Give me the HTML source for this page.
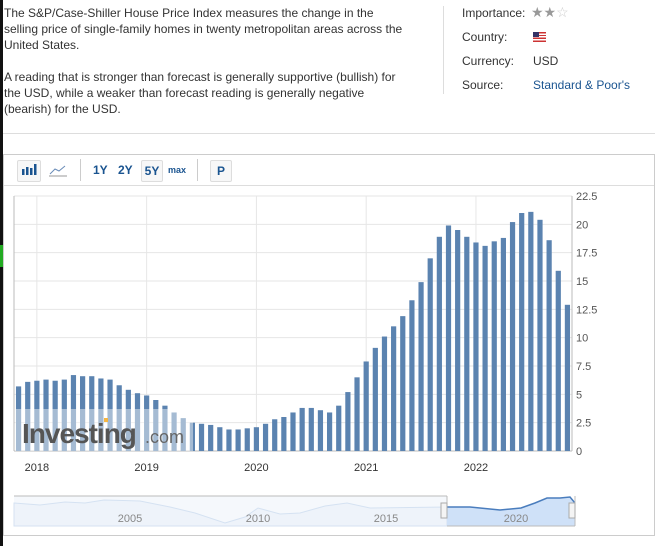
<!DOCTYPE html>
<html><head><meta charset="utf-8"><style>
body{margin:0;width:665px;height:546px;background:#fff;font-family:"Liberation Sans",sans-serif;position:relative;overflow:hidden}
.abs{position:absolute}
.desc{left:4px;top:5px;width:402px;font-size:12px;line-height:16px;color:#333}
.meta{font-size:12px;color:#333}
.btn{position:absolute;top:160px;height:20px;border:1px solid #ddd;border-radius:2px;background:#f7f7f7;font-size:12px;font-weight:bold;color:#1a5490;text-align:center;line-height:20px}
.lbl{position:absolute;font-size:12px;font-weight:bold;color:#1a5490}
</style></head><body>
<div class="abs" style="left:0;top:0;width:3px;height:546px;background:#111"></div>
<div class="abs" style="left:0;top:245px;width:3px;height:22px;background:#2a2"></div>
<div class="abs desc">The S&amp;P/Case-Shiller House Price Index measures the change in the selling price of single-family homes in twenty metropolitan areas across the United States.<br><br>A reading that is stronger than forecast is generally supportive (bullish) for the USD, while a weaker than forecast reading is generally negative (bearish) for the USD.</div>
<div class="abs" style="left:443px;top:6px;width:1px;height:88px;background:#ddd"></div>
<div class="abs meta" style="left:462px;top:6px">Importance:</div>
<div class="abs" style="left:531px;top:4px;font-size:14px;color:#999">★★<span style="color:#ccc">☆</span></div>
<div class="abs meta" style="left:462px;top:30px">Country:</div>
<div class="abs" style="left:533px;top:32px;width:13px;height:10px;background:repeating-linear-gradient(#c33 0 1.4px,#fff 1.4px 2.8px)"><div style="width:6px;height:5px;background:#336"></div></div>
<div class="abs meta" style="left:462px;top:54px">Currency:</div>
<div class="abs meta" style="left:533px;top:54px">USD</div>
<div class="abs meta" style="left:462px;top:78px">Source:</div>
<div class="abs meta" style="left:533px;top:78px;color:#1a5490">Standard &amp; Poor's</div>
<div class="abs" style="left:3px;top:133px;width:652px;height:1px;background:#ddd"></div>
<div class="abs" style="left:3px;top:154px;width:650px;height:380px;border:1px solid #ccc"></div>
<div class="abs" style="left:4px;top:185px;width:650px;height:1px;background:#ddd"></div>
<div class="btn" style="left:17px;width:22px"><svg width="16" height="12" viewBox="0 0 16 12"><rect x="1" y="6" width="2.5" height="6" fill="#1a5490"/><rect x="5" y="4" width="2.5" height="8" fill="#1a5490"/><rect x="9" y="5" width="2.5" height="7" fill="#1a5490"/><rect x="13" y="1" width="2.5" height="11" fill="#1a5490"/></svg></div>
<div class="abs" style="left:49px;top:163px"><svg width="18" height="14"><polyline points="1,11 6,6 10,8 16,3" fill="none" stroke="#6a8cb8"/><line x1="0" y1="13" x2="18" y2="13" stroke="#999"/></svg></div>
<div class="abs" style="left:80px;top:159px;width:1px;height:22px;background:#ccc"></div>
<div class="lbl" style="left:93px;top:163px">1Y</div>
<div class="lbl" style="left:118px;top:163px">2Y</div>
<div class="btn" style="left:141px;width:20px">5Y</div>
<div class="lbl" style="left:168px;top:165px;font-size:9px">max</div>
<div class="abs" style="left:197px;top:159px;width:1px;height:22px;background:#ccc"></div>
<div class="btn" style="left:210px;width:20px">P</div>
<svg class="abs" style="left:0;top:0" width="665" height="546" id="chart"></svg>
<script>
const values=[5.7,6.1,6.2,6.3,6.2,6.3,6.7,6.6,6.6,6.4,6.3,5.8,5.4,5.1,4.9,4.5,4.0,3.4,2.9,2.5,2.4,2.3,2.1,1.9,1.9,2.0,2.1,2.4,2.8,3.0,3.4,3.8,3.8,3.6,3.4,4.0,5.2,6.5,7.9,9.1,10.1,11.0,11.9,13.3,14.9,17.0,18.9,19.9,19.5,18.9,18.4,18.1,18.5,18.8,20.2,21.0,21.1,20.4,18.6,15.9,12.9];
const yTicks=[0,2.5,5,7.5,10,12.5,15,17.5,20,22.5];
const years=["2018","2019","2020","2021","2022"];
const yearIdx=[2,14,26,38,50];
const navLabels=["2005","2010","2015","2020"];
const NS='http://www.w3.org/2000/svg',svg=document.getElementById('chart');
const x0=14,x1=572,yBase=451,yTop=196,yMax=22.5;
const step=(x1-x0)/values.length;
const y=v=>yBase-(v/yMax)*(yBase-yTop);
const xc=i=>x0+step*(i+0.5);
function mk(t,a){const e=document.createElementNS(NS,t);for(const k in a)e.setAttribute(k,a[k]);svg.appendChild(e);return e;}
yTicks.forEach(t=>{const g=mk('line',{x1:x0,x2:x1,y1:y(t),y2:y(t),stroke:'#e6e6e6'});


const l=mk('text',{x:x1+4,y:y(t)+4,'font-size':11,fill:'#555','font-family':'Liberation Sans'});l.textContent=t;

});
years.forEach((yr,k)=>{const xx=xc(yearIdx[k]);const g=mk('line',{x1:xx,x2:xx,y1:yTop,y2:yBase,stroke:'#e6e6e6'});


const l=mk('text',{x:xx,y:471,'font-size':11,fill:'#333','text-anchor':'middle','font-family':'Liberation Sans'});l.textContent=yr;

});
mk('line',{x1:x0,x2:x0,y1:yTop,y2:yBase,stroke:'#bbb'});
mk('line',{x1:x1,x2:x1,y1:yTop,y2:yBase,stroke:'#bbb'});
mk('line',{x1:x0,x2:x1,y1:yBase,y2:yBase,stroke:'#bbb'});
values.forEach((v,i)=>{const r=mk('rect',{x:xc(i)-2.6,y:y(v),width:5.2,height:yBase-y(v),fill:'#5b83b0'});

});
mk('rect',{x:x0+1,y:409,width:178,height:42,fill:'#fff',opacity:0.45});
const wm=mk('text',{x:22,y:443,'font-size':28,'font-weight':'bold',fill:'#555','font-family':'Liberation Sans','letter-spacing':'-1'});wm.textContent='Investing';


const wm2=mk('text',{x:145,y:443,'font-size':18,fill:'#666','font-family':'Liberation Sans'});wm2.textContent='.com';


mk('rect',{x:104,y:418,width:4,height:4,fill:'#f5b642'});
// navigator
mk('rect',{x:14,y:496,width:433,height:30,fill:'#f5f8fc'});
mk('path',{d:'M14,503 L40,505 L65,502 L85,503 L104,500 L140,501 L170,507 L195,513 L225,523 L245,517 L258,508 L280,514 L300,513 L325,506 L347,503 L370,508 L447,507 L447,526 L14,526Z',fill:'#eef3fa',stroke:'#d5e2f2'});
mk('path',{d:'M447,507 L470,507 L500,510 L521,508 L535,503 L547,498 L560,498 L570,497 L575,503 L575,526 L447,526Z',fill:'#cfe1f8'});
mk('path',{d:'M447,507 L470,507 L500,510 L521,508 L535,503 L547,498 L560,498 L570,497 L575,503',fill:'none',stroke:'#4a7dbd','stroke-width':1.5});
mk('line',{x1:14,x2:447,y1:496,y2:496,stroke:'#bbb'});
mk('line',{x1:447,x2:447,y1:496,y2:507,stroke:'#bbb'});
mk('line',{x1:575,x2:575,y1:496,y2:526,stroke:'#bbb'});
mk('line',{x1:447,x2:575,y1:526,y2:526,stroke:'#bbb'});
const navX=[130,258,386,516];
navLabels.forEach((t,k)=>{const l=mk('text',{x:navX[k],y:522,'font-size':11,fill:'#888','font-family':'Liberation Sans','text-anchor':'middle'});l.textContent=t;

});
[444,572].forEach(xx=>{const h=mk('rect',{x:xx-3,y:503,width:6,height:15,fill:'#f4f4f4',stroke:'#aaa'});

});
</script>
</body></html>
